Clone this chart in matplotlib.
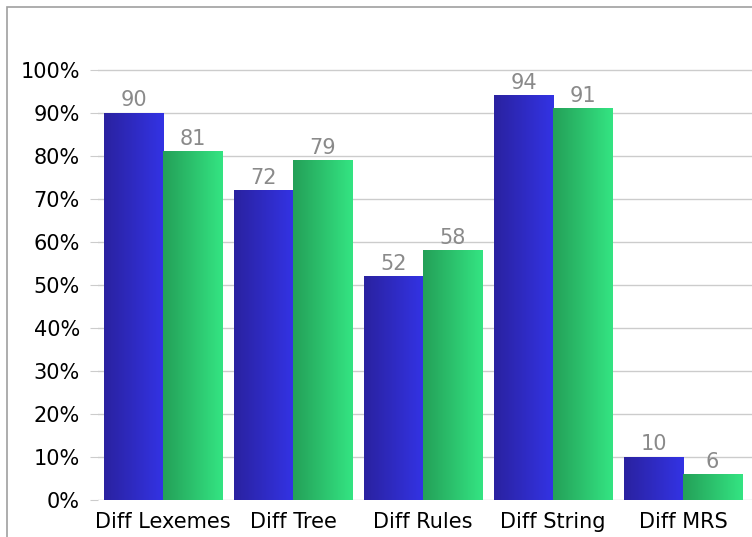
import numpy as np
import matplotlib
matplotlib.use('Agg')
import matplotlib.pyplot as plt
from matplotlib.patches import Rectangle
from matplotlib.colors import LinearSegmentedColormap

categories = ['Diff Lexemes', 'Diff Tree', 'Diff Rules', 'Diff String', 'Diff MRS']
series_a = [90, 72, 52, 94, 10]
series_b = [81, 79, 58, 91, 6]

W, H = 752, 537
fig = plt.figure(figsize=(W / 100, H / 100), dpi=100)

# outer frame (runs off the right/bottom edge)
fig.patches.append(Rectangle((7 / W, -0.1), 1.2, 1 - 7 / H + 0.1, transform=fig.transFigure,
                             fill=False, edgecolor='#a0a0a0', linewidth=1.2))

ax = fig.add_axes([98 / W, 37 / H, 1 - 98 / W, (500 - 27) / H])

for s in ax.spines.values():
    s.set_visible(False)

ax.set_yticks(np.arange(0, 101, 10))
ax.set_yticklabels([f'{v}%' for v in range(0, 101, 10)], fontsize=15)
ax.yaxis.grid(True, color='#cccccc', linewidth=1)
ax.set_axisbelow(True)
ax.tick_params(axis='y', length=6, color='#cccccc', pad=7)
ax.set_xticks(range(len(categories)))
ax.set_xticklabels(categories, fontsize=15)
ax.tick_params(axis='x', length=0, pad=9)

blue = LinearSegmentedColormap.from_list('blue', ['#2a22a0', '#3333e4'])
green = LinearSegmentedColormap.from_list('green', ['#24a058', '#34e482'])
grad = np.linspace(0, 1, 64).reshape(1, -1)
bw = 0.454

for i in range(len(categories)):
    for off, val, cmap in [(-bw / 2, series_a[i], blue), (bw / 2, series_b[i], green)]:
        x0 = i + off - bw / 2
        ax.imshow(grad, cmap=cmap, aspect='auto', extent=(x0, x0 + bw, 0, val),
                  interpolation='bilinear', zorder=2)
        ax.text(i + off, val + 0.6, str(val), ha='center', va='bottom',
                fontsize=15, color='#8a8a8a')

ax.set_xlim(-0.5, 4.53)
ax.set_ylim(0, 110)

plt.savefig('out.png', dpi=100)
